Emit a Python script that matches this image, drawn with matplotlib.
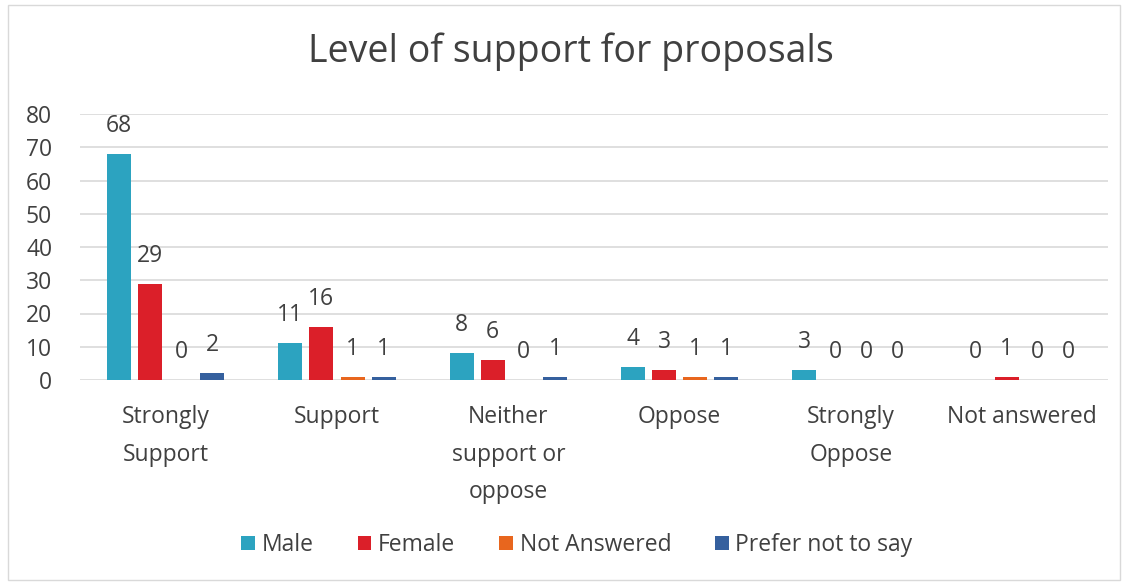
import numpy as np
import matplotlib
matplotlib.use("Agg")
import matplotlib.pyplot as plt
from matplotlib.patches import Rectangle

plt.rcParams['font.family'] = ['Open Sans', 'DejaVu Sans']

categories = ["Strongly\nSupport", "Support", "Neither\nsupport or\noppose",
              "Oppose", "Strongly\nOppose", "Not answered"]
series_names = ["Male", "Female", "Not Answered", "Prefer not to say"]
male = [68, 11, 8, 4, 3, 0]
female = [29, 16, 6, 3, 0, 1]
not_answered = [0, 1, 0, 1, 0, 0]
prefer_not = [2, 1, 1, 1, 0, 0]
colors = ["#2CA3C0", "#DB1F29", "#E8661E", "#35609E"]
y_ticks = [0, 10, 20, 30, 40, 50, 60, 70, 80]

series = [male, female, not_answered, prefer_not]
text_color = "#404040"
fs = 16.5

fig = plt.figure(figsize=(11.26, 5.85), dpi=100)
ax = fig.add_axes([80 / 1126, 1 - 380 / 585, 1028 / 1126, 266 / 585])

x = np.arange(len(categories))
bar_w = 24 / 171
pitch = 31 / 171
for i, (vals, c, name) in enumerate(zip(series, colors, series_names)):
    pos = x + (i - 1.5) * pitch
    ax.bar(pos, vals, width=bar_w, color=c, label=name, zorder=3)
    for px, v in zip(pos, vals):
        ax.annotate(str(v), (px, v), xytext=(0, 28), textcoords="offset pixels",
                    ha="center", va="center", fontsize=fs, color=text_color)

ax.set_xlim(-0.5, len(categories) - 0.5)
ax.set_ylim(0, 80)
ax.set_yticks(y_ticks)
ax.yaxis.grid(True, color="#D9D9D9", linewidth=1.2, zorder=0)
ax.set_axisbelow(True)
for s in ax.spines.values():
    s.set_visible(False)
ax.tick_params(axis="y", length=0, pad=20, labelsize=fs, labelcolor=text_color)
ax.set_xticks(x)
ax.set_xticklabels(categories, fontsize=fs, color=text_color, linespacing=1.76)
ax.tick_params(axis="x", length=0, pad=18)

fig.text(571 / 1126, 1 - 52 / 585, "Level of support for proposals",
         ha="center", va="center", fontsize=27, color=text_color)

leg = fig.legend(loc="center", bbox_to_anchor=(577 / 1126, 1 - 545 / 585), ncol=4,
                 frameon=False, fontsize=fs, handlelength=0.6, handleheight=0.6,
                 handletextpad=0.3, columnspacing=1.9, labelcolor=text_color)

fig.patches.append(Rectangle((8 / 1126, 5 / 585), 1112 / 1126, 575 / 585,
                             transform=fig.transFigure, fill=False,
                             edgecolor="#D9D9D9", linewidth=1))

fig.savefig("out.png", dpi=100, facecolor="white")
